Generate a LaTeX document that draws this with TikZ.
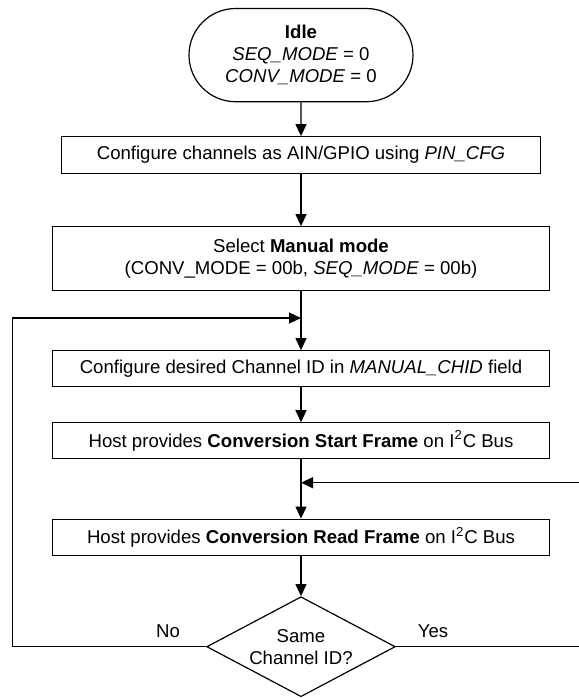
\documentclass[tikz,border=0pt]{standalone}
\usepackage{fontspec}
\setmainfont{Liberation Sans}
\usetikzlibrary{shapes.geometric,shapes.misc,arrows.meta}

\begin{document}
\begin{tikzpicture}[x=0.5pt, y=-0.5pt, line width=0.6pt,
	font=\fontsize{9.3}{11}\selectfont,
	stepbox/.style={draw, rectangle, fill=white, inner sep=0pt, minimum width=248.5pt, minimum height=18pt, align=center},
	flow/.style={-{Triangle[length=6pt,width=5.5pt]}}]
	\useasboundingbox (0,0) rectangle (579,698);
	\clip (0,0) rectangle (579,698);

	%start state
	\node (idle) at (301, 55.1) [draw, rounded rectangle, minimum width=112pt, minimum height=46.6pt, inner sep=0pt, align=center]{\textbf{Idle}\\\textit{SEQ\_MODE} = 0\\\textit{CONV\_MODE} = 0};

	%steps
	\node (pincfg) at (301, 155) [stepbox, minimum width=239.3pt, minimum height=18.3pt]{Configure channels as AIN/GPIO using \textit{PIN\_CFG}};
	\node (manual) at (301, 258.7) [stepbox, minimum height=32pt]{Select \textbf{Manual mode}\\(CONV\_MODE = 00b, \textit{SEQ\_MODE} = 00b)};
	\node (chid) at (301, 368.7) [stepbox]{Configure desired Channel ID in \textit{MANUAL\_CHID} field};
	\node (start) at (301, 440.8) [stepbox]{Host provides \textbf{Conversion Start Frame} on I\textsuperscript{2}C Bus};
	\node (read) at (301, 537.2) [stepbox]{Host provides \textbf{Conversion Read Frame} on I\textsuperscript{2}C Bus};

	%decision
	\node (same) at (301, 646.7) [draw, diamond, aspect=1.886, minimum width=94.3pt, minimum height=50pt, inner sep=0pt, align=center]{Same\\Channel ID?};

	\draw[flow] (idle) -- (pincfg);
	\draw[flow] (pincfg) -- (manual);
	\draw[flow] (manual) -- (chid);
	\draw[flow] (chid) -- (start);
	\draw[flow] (start) -- (read);
	\draw[flow] (read) -- (same);

	%loops back
	\coordinate (back) at (301, 318);
	\coordinate (noturn) at (12.7, 318);
	\coordinate (again) at (301, 482.7);
	\coordinate (yesturn) at (581, 482.7);
	\draw[flow] (same.west) -| (noturn) -- (back);
	\draw[flow] (same.east) -| (yesturn) -- (again);

	\node (no) at (168, 637.5) [anchor=base]{No};
	\node (yes) at (433, 637.5) [anchor=base]{Yes};
\end{tikzpicture}
\end{document}
